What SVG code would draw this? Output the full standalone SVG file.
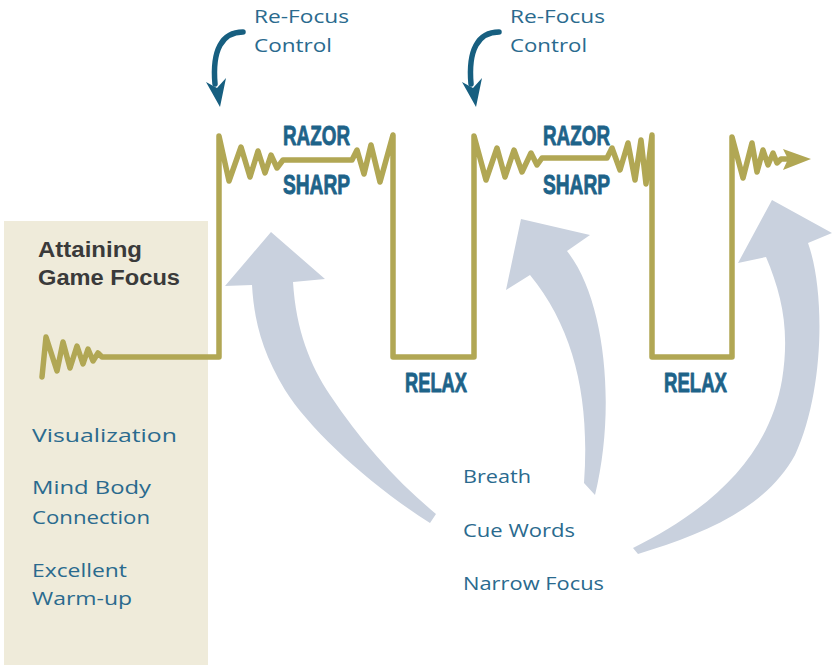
<svg xmlns="http://www.w3.org/2000/svg" width="832" height="665" viewBox="0 0 832 665">
  <style>
    .panel { fill: #efebda; }
    .big { fill: #c9d1de; }
    .wave { fill: none; stroke: #b1a754; stroke-width: 5.5; stroke-linejoin: round; stroke-linecap: round; }
    .wavehead { fill: #b1a754; }
    .refocus { fill: none; stroke: #175f80; stroke-width: 5.5; stroke-linecap: round; }
    .refocushead { fill: #175f80; }
    .hand { font-family: "Open Sans", "Noto Sans", sans-serif; font-size: 18px; fill: #2a6a8e; }
    .state { font-family: "Liberation Sans", Arial, sans-serif; font-weight: bold; font-size: 28px; fill: #1e6389; stroke: #1e6389; stroke-width: 0.9; stroke-linejoin: round; }
    .title { font-family: "Liberation Sans", Arial, sans-serif; font-weight: bold; font-size: 21.5px; fill: #3a3a3a; }
  </style>

  <g id="panel">
    <rect class="panel" x="4" y="221" width="204" height="444"/>
    <text class="title" x="38" y="257" textLength="104" lengthAdjust="spacingAndGlyphs">Attaining</text>
    <text class="title" x="38" y="285" textLength="142" lengthAdjust="spacingAndGlyphs">Game Focus</text>
  </g>

  <g id="connectors">
    <path id="arrow-breath" class="big" d="M430,523 C370,485 310,430 285,390 C262,352 254,320 252,285 L225,286 L271,232 L325,279 L293,282 C296,330 310,365 330,395 C360,440 395,480 436,514 Z"/>
    <path id="arrow-cue" class="big" d="M584,483 C590,400 575,330 530,275 L506,290 L521,219 L590,235 L567,251 C606,300 616,410 595,495 Z"/>
    <path id="arrow-narrow" class="big" d="M633,548 C720,505 770,450 782,380 C790,330 782,295 766,257 L738,263 L772,200 L832,233 L808,243 C825,290 825,390 795,455 C765,510 700,535 638,554 Z"/>

    <path id="wave" class="wave" d="M42,377 L46,337 L57,371 L63,342 L70,368 L77,346 L83,364 L88,349 L93,361 L98,353 L102,357 H219 V136 L229,181 L241,147 L250,177 L258,151 L265,173 L271,155 L277,168 L283,160 H352 L357,150 L364,174 L371,145 L380,182 L393,135 V357 H474 V136 L486,180 L497,148 L505,177 L514,150 L522,172 L531,153 L537,165 L542,158 H607 L612,148 L620,170 L628,143 L635,180 L641,140 L646,184 L652,135 V357 H732 V137 L743,178 L752,143 L757,172 L763,150 L768,165 L773,153 L777,163 L781,159 H788"/>
    <path class="wavehead" d="M783,149 L811,159 L783,170 L788,159 Z"/>

    <path class="refocus" d="M243,32 C222,32 212,50 215,84"/>
    <path class="refocushead" d="M206,82 L217,88 L226,78 L220,107 Z"/>
    <path class="refocus" d="M499,32 C478,32 468,50 471,84"/>
    <path class="refocushead" d="M462,82 L473,88 L482,78 L476,107 Z"/>
  </g>

  <g id="refocus-1">
    <text class="hand" x="254" y="23" textLength="95" lengthAdjust="spacingAndGlyphs">Re-Focus</text>
    <text class="hand" x="254" y="52" textLength="78" lengthAdjust="spacingAndGlyphs">Control</text>
  </g>
  <g id="refocus-2">
    <text class="hand" x="510" y="23" textLength="95" lengthAdjust="spacingAndGlyphs">Re-Focus</text>
    <text class="hand" x="510" y="52" textLength="77" lengthAdjust="spacingAndGlyphs">Control</text>
  </g>

  <g id="razor-1">
    <text class="state" x="283" y="145" textLength="67" lengthAdjust="spacingAndGlyphs">RAZOR</text>
    <text class="state" x="283" y="194" textLength="67" lengthAdjust="spacingAndGlyphs">SHARP</text>
  </g>
  <g id="razor-2">
    <text class="state" x="543" y="145" textLength="67" lengthAdjust="spacingAndGlyphs">RAZOR</text>
    <text class="state" x="543" y="194" textLength="67" lengthAdjust="spacingAndGlyphs">SHARP</text>
  </g>
  <g id="relax-1">
    <text class="state" x="405" y="392" textLength="62" lengthAdjust="spacingAndGlyphs">RELAX</text>
  </g>
  <g id="relax-2">
    <text class="state" x="664" y="392" textLength="63" lengthAdjust="spacingAndGlyphs">RELAX</text>
  </g>

  <g id="preparation">
    <text class="hand" x="32" y="442" textLength="145" lengthAdjust="spacingAndGlyphs">Visualization</text>
    <text class="hand" x="32" y="494" textLength="119" lengthAdjust="spacingAndGlyphs">Mind Body</text>
    <text class="hand" x="32" y="524" textLength="118" lengthAdjust="spacingAndGlyphs">Connection</text>
    <text class="hand" x="32" y="577" textLength="95" lengthAdjust="spacingAndGlyphs">Excellent</text>
    <text class="hand" x="32" y="605" textLength="100" lengthAdjust="spacingAndGlyphs">Warm-up</text>
  </g>

  <g id="techniques">
    <text class="hand" x="463" y="483" textLength="68" lengthAdjust="spacingAndGlyphs">Breath</text>
    <text class="hand" x="463" y="537" textLength="112" lengthAdjust="spacingAndGlyphs">Cue Words</text>
    <text class="hand" x="463" y="590" textLength="141" lengthAdjust="spacingAndGlyphs">Narrow Focus</text>
  </g>
</svg>
